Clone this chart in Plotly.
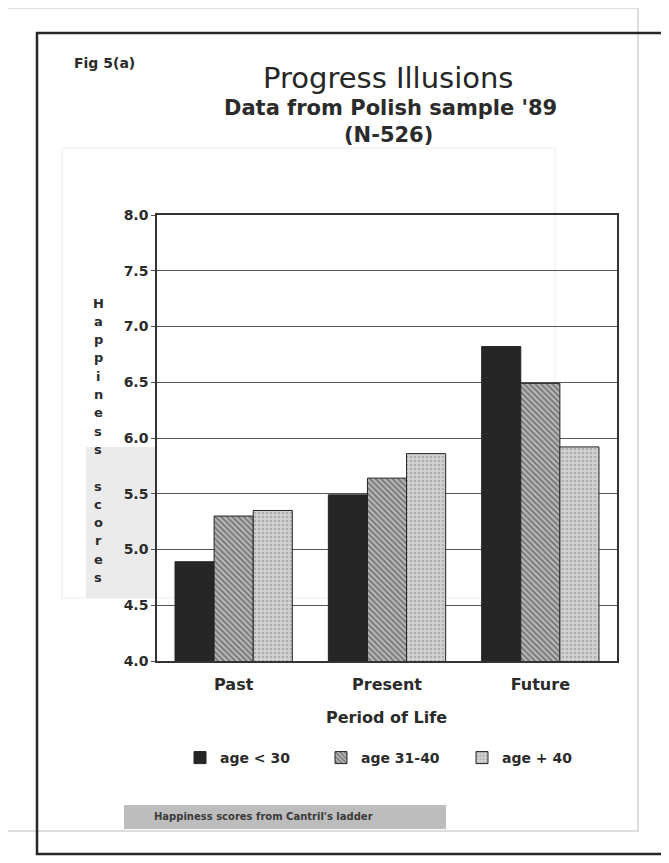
import plotly.graph_objects as go

# ---- data ----
periods = ["Past", "Present", "Future"]
age_lt30 = [4.89, 5.49, 6.82]
age_31_40 = [5.30, 5.64, 6.49]
age_gt40 = [5.35, 5.86, 5.92]
series_names = ["age < 30", "age 31-40", "age + 40"]
y_ticks = [4.0, 4.5, 5.0, 5.5, 6.0, 6.5, 7.0, 7.5, 8.0]

# page body has an 8px margin; figure is sized to fit the window
OFF = 8
W, H = 669 - OFF, 863 - OFF
# plot area in screen pixels
SX0, SX1, SY0, SY1 = 157, 617, 215, 661
L, T = SX0 - OFF, SY0 - OFF
R, B = W - (SX1 - OFF), H - (SY1 - OFF)
PW, PH = SX1 - SX0, SY1 - SY0

def px(x):
    return (x - SX0) / PW

def py(y):
    return (SY1 - y) / PH

FONT = "DejaVu Sans, Liberation Sans, Arial, sans-serif"
INK = "#2b2b2b"

fig = go.Figure()
fig.add_trace(go.Bar(
    x=periods, y=age_lt30, name=series_names[0],
    marker=dict(color="#262626", line=dict(color="#222", width=1)),
))
fig.add_trace(go.Bar(
    x=periods, y=age_31_40, name=series_names[1],
    marker=dict(color="#9a9a9a", line=dict(color="#222", width=1),
                pattern=dict(shape="\\", fgcolor="#2e2e2e", bgcolor="#b8b8b8",
                             size=4, solidity=0.45)),
))
fig.add_trace(go.Bar(
    x=periods, y=age_gt40, name=series_names[2],
    marker=dict(color="#c8c8c8", line=dict(color="#222", width=1),
                pattern=dict(shape=".", fgcolor="#8a8a8a", bgcolor="#d2d2d2",
                             size=4, solidity=0.35)),
))

annotations = [
    dict(text="<b>Fig 5(a)</b>", x=px(72), y=py(63), xanchor="left", yanchor="middle",
         font=dict(size=14, color=INK, family=FONT)),
    dict(text="Progress Illusions", x=px(388), y=py(78), xanchor="center", yanchor="middle",
         font=dict(size=29, color="#262626", family=FONT)),
    dict(text="<b>Data from Polish sample '89</b>", x=px(390), y=py(108), xanchor="center",
         yanchor="middle", font=dict(size=21, color=INK, family=FONT)),
    dict(text="<b>(N-526)</b>", x=px(388), y=py(135), xanchor="center", yanchor="middle",
         font=dict(size=21, color=INK, family=FONT)),
    dict(text="<b>Period of Life</b>", x=px(386), y=py(717), xanchor="center", yanchor="middle",
         font=dict(size=16, color=INK, family=FONT)),
    dict(text="<b>Happiness scores from Cantril's ladder</b>", x=px(152), y=py(816),
         xanchor="left", yanchor="middle", font=dict(size=10, color="#3a3a3a", family=FONT)),
]
label = "Happiness scores"
for i, ch in enumerate(label):
    if ch == " ":
        continue
    annotations.append(dict(text="<b>%s</b>" % ch, x=px(98), y=py(303 + i * 18.3),
                            xanchor="center", yanchor="middle",
                            font=dict(size=13, color=INK, family=FONT)))
for a in annotations:
    a.update(xref="paper", yref="paper", showarrow=False)

shapes = [
    # faint bleed-through of the facing page
    dict(type="rect", x0=px(62), x1=px(555), y0=py(148), y1=py(598),
         line=dict(color="#ececec", width=1), layer="below"),
    dict(type="rect", x0=px(86), x1=px(157), y0=py(447), y1=py(598),
         fillcolor="#ebebeb", line=dict(width=0), layer="below"),
    # faint outer page edge
    dict(type="rect", x0=px(7), x1=px(638), y0=py(8), y1=py(831),
         line=dict(color="#d2d2d2", width=1.5), layer="below"),
    # black frame
    dict(type="rect", x0=px(37), x1=px(664), y0=py(33), y1=py(854),
         line=dict(color="#262626", width=2.5), layer="below"),
    # grey highlight behind the note
    dict(type="rect", x0=px(124), x1=px(446), y0=py(805), y1=py(829),
         fillcolor="#bdbdbd", line=dict(width=0), layer="below"),
]
for s in shapes:
    s.update(xref="paper", yref="paper")

fig.update_layout(
    width=W, height=H,
    margin=dict(l=L, r=R, t=T, b=B, pad=0),
    paper_bgcolor="white", plot_bgcolor="rgba(255,255,255,0)",
    barmode="group", bargap=0.235, bargroupgap=0,
    font=dict(family=FONT, color=INK),
    showlegend=True,
    legend=dict(orientation="h", x=px(180), y=py(758), xanchor="left", yanchor="middle",
                font=dict(size=14, color=INK, family=FONT, weight="bold"),
                entrywidth=96, entrywidthmode="pixels",
                traceorder="normal", bgcolor="rgba(0,0,0,0)"),
    annotations=annotations,
    shapes=shapes,
)
fig.update_xaxes(
    showline=True, linecolor="#333", linewidth=1.5, mirror=True,
    ticks="", tickfont=dict(size=16, color=INK, family=FONT, weight="bold"),
    ticklabelstandoff=8,
)
fig.update_yaxes(
    range=[4, 8], tickvals=y_ticks, tickformat=".1f",
    showline=True, linecolor="#333", linewidth=1.5, mirror=True,
    showgrid=True, gridcolor="#555", gridwidth=1,
    ticks="outside", ticklen=4, tickcolor="#555",
    tickfont=dict(size=14, color=INK, family=FONT, weight="bold"),
    zeroline=False,
)

fig.write_html("out.html")
